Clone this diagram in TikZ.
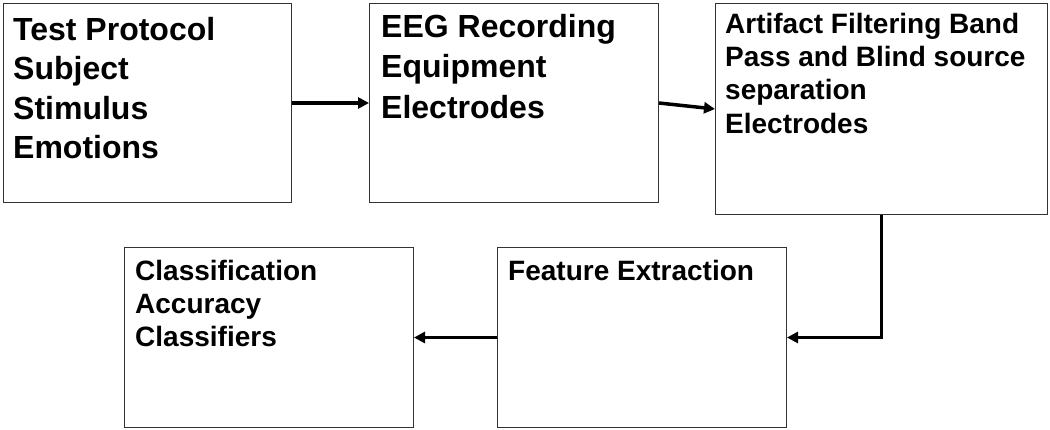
\documentclass[tikz,border=0pt]{standalone}
\usepackage{fontspec}
\setmainfont{Liberation Sans}
\usetikzlibrary{arrows.meta}
\begin{document}
\begin{tikzpicture}[x=1pt,y=-1pt,
  box/.style={draw=black!80,line width=1pt,fill=white,rectangle,inner sep=0pt,anchor=north west},
  bigtext/.style={anchor=base west,inner sep=0pt,align=left,font=\fontsize{32}{39.5}\selectfont\bfseries},
  smalltext/.style={anchor=base west,inner sep=0pt,align=left,font=\fontsize{28}{33.4}\selectfont\bfseries},
  conn/.style={line width=3.5pt,-{Triangle[length=11pt,width=11pt]}}]
\useasboundingbox (0,0) rectangle (1050,429);
\node[box,minimum width=288pt,minimum height=199pt] (b1) at (3,3) {};
\node[box,minimum width=289pt,minimum height=199pt] (b2) at (369,3) {};
\node[box,minimum width=332pt,minimum height=211pt] (b3) at (715,3) {};
\node[box,minimum width=289pt,minimum height=180pt] (b4) at (497,247) {};
\node[box,minimum width=289pt,minimum height=180pt] (b5) at (124,247) {};
% multi-line nodes: base anchor is on the last line
\node[bigtext] (t1) at (13,158.5) {Test Protocol\\Subject\\Stimulus\\Emotions};
\node[bigtext,font=\fontsize{32}{40.5}\selectfont\bfseries] (t2) at (381,118) {EEG Recording\\Equipment\\Electrodes};
\node[smalltext] (t3) at (725,133.2) {Artifact Filtering Band\\Pass and Blind source\\separation\\Electrodes};
\node[smalltext] (t4) at (508,280) {Feature Extraction};
\node[smalltext] (t5) at (135,346.8) {Classification\\Accuracy\\Classifiers};
\draw[conn] (b1.east) -- (b2.west);
\draw[conn] (b2.east) -- (b3.west);
\draw[conn] (b3.south) |- (b4.east);
\draw[conn] (b4.west) -- (b5.east);
\end{tikzpicture}
\end{document}
